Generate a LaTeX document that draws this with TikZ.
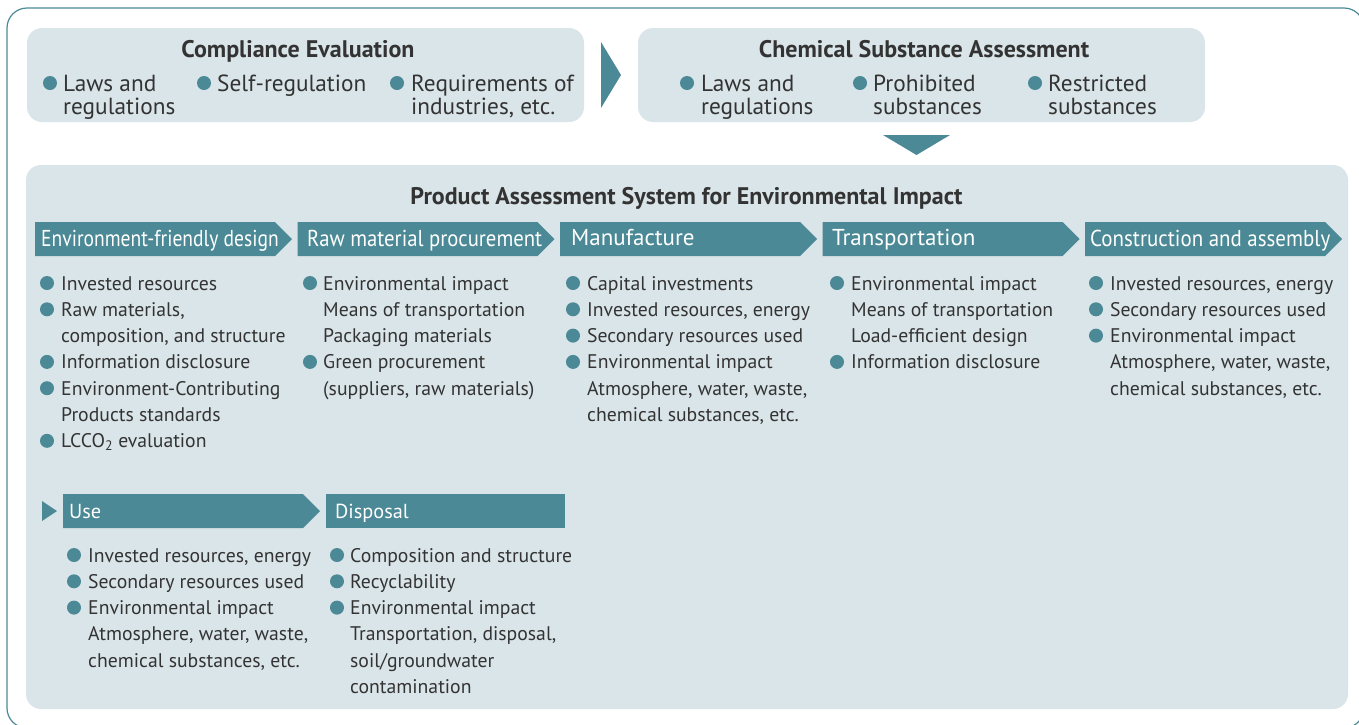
\documentclass[tikz,border=0pt]{standalone}
\usepackage{fontspec}
\setmainfont{PT Sans}
\usepackage{graphicx}
\definecolor{teal1}{HTML}{4A8995}
\definecolor{boxbg}{HTML}{DAE5E9}
\definecolor{txt}{HTML}{333333}
\newcommand\itemlist[5]{%
  \foreach \t/\b [count=\i] in {#5} {
    \node[body] (#1-\i) at (#3, {#4+(\i-1)*26.3}) {\t};
    \ifnum\b=1 \node[bul] (#1-b\i) at (#2, {#4+(\i-1)*26.3-7}) {};\fi
  }}
\begin{document}
\begin{tikzpicture}[x=1pt,y=-1pt,
  body/.style={anchor=base west, inner sep=0pt, text=txt, font=\fontsize{19.7}{22}\selectfont},
  topbody/.style={anchor=base west, inner sep=0pt, text=txt, font=\fontsize{23.3}{26}\selectfont},
  bul/.style={circle, fill=teal1, inner sep=0pt, minimum size=14pt},
  ttl/.style={anchor=base, inner sep=0pt, text=txt, font=\bfseries\fontsize{24}{28}\selectfont},
  bartext/.style={anchor=base west, inner sep=0pt, text=white, font=\fontsize{23}{26}\selectfont},
  smallbartext/.style={bartext, font=\fontsize{20.3}{24}\selectfont},
  panel/.style={fill=boxbg, rounded corners=15pt},
  barshape/.style={fill=teal1}]
\useasboundingbox (0,0) rectangle (1359,724);
\begin{scope}
  \clip (0,0) rectangle (1359,724);
  \draw[teal1, line width=1.2pt, rounded corners=20pt] (7,8) rectangle (1364,728);
\end{scope}
% top panels
\fill[panel] (27,28) rectangle (584,122);
\fill[panel] (638,28) rectangle (1205,122);
\fill[teal1] (601,42) -- (621,75) -- (601,108) -- cycle;
\fill[teal1] (883,135) -- (950,135) -- (916.5,155) -- cycle;
\node[ttl] (ce) at (298,57) {Compliance Evaluation};
\node[ttl] (csa) at (924,57) {Chemical Substance Assessment};
\foreach \bx/\tx/\a/\bb [count=\k] in {50/63/{Laws and}/{regulations}, 204/217/{Self-regulation}/{}, 397/411/{Requirements of}/{industries, etc.},
  687/701/{Laws and}/{regulations}, 860/873/{Prohibited}/{substances}, 1035/1048/{Restricted}/{substances}} {
  \node[bul] (tb\k) at (\bx,83) {};
  \node[topbody] (ta\k) at (\tx,91) {\a};
  \node[topbody] (tc\k) at (\tx,114) {\bb};
}
% main panel
\fill[panel] (26,165) rectangle (1348,709);
\node[ttl] (pas) at (686.5,204) {Product Assessment System for Environmental Impact};
% chevron bars
\foreach \i in {0,...,4} {
  \pgfmathsetmacro\xo{35+262.5*\i}
  \fill[barshape] (\xo,222) -- ({\xo+240},222) -- ({\xo+257},239) -- ({\xo+240},256) -- (\xo,256) -- cycle;
}
\node[bartext] (h1) at (41,246) {\scalebox{0.85}[1]{Environment-friendly design}};
\node[bartext] (h2) at (307,246) {\scalebox{0.90}[1]{Raw material procurement}};
\node[bartext] (h3) at (571,245.5) {Manufacture};
\node[bartext] (h4) at (832,245.5) {Transportation};
\node[bartext] (h5) at (1090,246) {\scalebox{0.91}[1]{Construction and assembly}};
% second row bars
\fill[teal1] (42,501) -- (57,511) -- (42,521) -- cycle;
\fill[barshape] (63,494) -- (303,494) -- (320,511) -- (303,528) -- (63,528) -- cycle;
\fill[barshape] (326,494) rectangle (565,528);
\node[smallbartext] (h6) at (69,518) {Use};
\node[smallbartext] (h7) at (335,518) {Disposal};
% lists
\itemlist{c1}{47}{61}{290}{{Invested resources}/1, {Raw materials,}/1, {composition, and structure}/0, {Information disclosure}/1, {Environment-Contributing}/1, {Products standards}/0, {LCCO\textsubscript{2} evaluation}/1}
\itemlist{c2}{310}{323}{290}{{Environmental impact}/1, {Means of transportation}/0, {Packaging materials}/0, {Green procurement}/1, {(suppliers, raw materials)}/0}
\itemlist{c3}{573}{587}{290}{{Capital investments}/1, {Invested resources, energy}/1, {Secondary resources used}/1, {Environmental impact}/1, {Atmosphere, water, waste,}/0, {chemical substances, etc.}/0}
\itemlist{c4}{837}{851}{290}{{Environmental impact}/1, {Means of transportation}/0, {Load-efficient design}/0, {Information disclosure}/1}
\itemlist{c5}{1096}{1110}{290}{{Invested resources, energy}/1, {Secondary resources used}/1, {Environmental impact}/1, {Atmosphere, water, waste,}/0, {chemical substances, etc.}/0}
\itemlist{c6}{74}{88}{562}{{Invested resources, energy}/1, {Secondary resources used}/1, {Environmental impact}/1, {Atmosphere, water, waste,}/0, {chemical substances, etc.}/0}
\itemlist{c7}{337}{350}{562}{{Composition and structure}/1, {Recyclability}/1, {Environmental impact}/1, {Transportation, disposal,}/0, {soil/groundwater}/0, {contamination}/0}
\end{tikzpicture}
\end{document}
